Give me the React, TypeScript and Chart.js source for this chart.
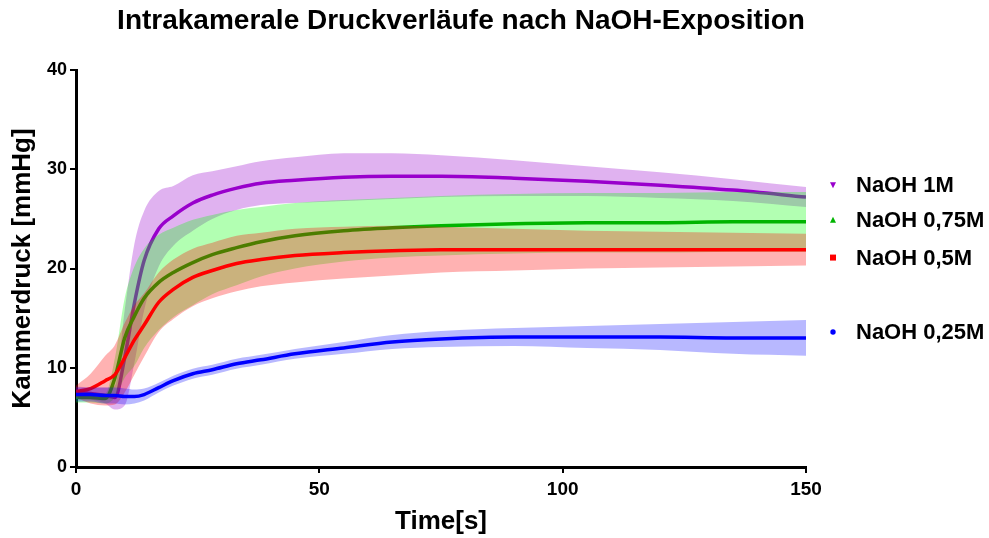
import React, { useEffect, useRef } from 'react';
import { Chart, registerables } from 'chart.js';

Chart.register(...registerables);

const titleText = 'Intrakamerale Druckverläufe nach NaOH-Exposition';
const xTitle = 'Time[s]';
const yTitle = 'Kammerdruck [mmHg]';

const times = [0, 3, 6, 8, 10, 12, 14, 17, 20, 24, 28, 33, 38, 45, 55, 65, 75, 90, 105, 120, 135, 150];

const mean1M = [7.5, 7.4, 7.2, 7.0, 11.0, 16.5, 20.8, 24.0, 25.3, 26.6, 27.4, 28.1, 28.6, 28.9, 29.2, 29.3, 29.3, 29.1, 28.8, 28.4, 27.9, 27.2];
const sd1M = [0.6, 0.6, 0.8, 1.2, 4.8, 6.0, 5.0, 3.8, 3.0, 2.8, 2.4, 2.2, 2.2, 2.3, 2.4, 2.3, 2.1, 1.8, 1.5, 1.3, 1.1, 1.0];

const mean075M = [7.0, 7.0, 6.9, 9.0, 13.0, 15.2, 17.0, 18.6, 19.6, 20.6, 21.4, 22.1, 22.7, 23.3, 23.8, 24.1, 24.3, 24.5, 24.6, 24.6, 24.7, 24.7];
const sd075M = [0.5, 0.5, 0.5, 2.0, 4.0, 5.0, 5.0, 4.8, 4.5, 4.3, 4.0, 3.8, 3.5, 3.3, 3.1, 3.0, 3.0, 3.0, 3.0, 3.0, 3.0, 3.0];

const mean05M = [7.6, 7.9, 8.7, 9.3, 11.0, 12.8, 14.3, 16.6, 17.9, 19.1, 19.8, 20.5, 20.9, 21.3, 21.6, 21.8, 21.9, 21.9, 21.9, 21.9, 21.9, 21.9];
const sd05M = [0.6, 1.5, 2.5, 3.0, 3.5, 3.5, 3.2, 3.0, 3.0, 2.9, 2.8, 2.8, 2.7, 2.7, 2.6, 2.5, 2.3, 2.1, 1.9, 1.8, 1.7, 1.6];

const mean025M = [7.3, 7.3, 7.2, 7.2, 7.1, 7.1, 7.3, 8.0, 8.7, 9.4, 9.8, 10.4, 10.8, 11.4, 12.0, 12.6, 12.9, 13.1, 13.1, 13.1, 13.0, 13.0];
const sd025M = [0.7, 0.7, 0.8, 0.8, 0.8, 0.7, 0.6, 0.5, 0.5, 0.5, 0.5, 0.5, 0.5, 0.5, 0.6, 0.7, 0.8, 0.9, 1.1, 1.3, 1.6, 1.8];

const seriesNames = ['NaOH 1M', 'NaOH 0,75M', 'NaOH 0,5M', 'NaOH 0,25M'];
const seriesMeans = [mean1M, mean075M, mean05M, mean025M];
const seriesSDs = [sd1M, sd075M, sd05M, sd025M];
const lineColors = ['#9900cc', '#00b400', '#ff0000', '#0000ff'];
const bandColors = ['rgba(153,0,204,0.3)', 'rgba(0,255,0,0.3)', 'rgba(255,0,0,0.3)', 'rgba(0,0,255,0.28)'];
const markerShapes = ['triangleDown', 'triangle', 'rect', 'circle'];
const legendAt = [28.4, 24.9, 21.1, 13.6];

const xTicks = [0, 50, 100, 150];
const yTicks = [0, 10, 20, 30, 40];

const FONT = "'Liberation Sans', Arial, sans-serif";

function drawMarker(ctx: CanvasRenderingContext2D, shape: string, x: number, y: number, color: string) {
  ctx.fillStyle = color;
  ctx.beginPath();
  const s = 3;
  if (shape === 'triangleDown') {
    ctx.moveTo(x - s, y - s);
    ctx.lineTo(x + s, y - s);
    ctx.lineTo(x, y + s);
  } else if (shape === 'triangle') {
    ctx.moveTo(x - s, y + s);
    ctx.lineTo(x + s, y + s);
    ctx.lineTo(x, y - s);
  } else if (shape === 'rect') {
    ctx.rect(x - s, y - s, 2 * s, 2 * s);
  } else {
    ctx.arc(x, y, s * 0.9, 0, Math.PI * 2);
  }
  ctx.closePath();
  ctx.fill();
}

const overlayPlugin = {
  id: 'overlay',
  afterDraw(chart: any) {
    const { ctx, chartArea, scales } = chart;
    ctx.save();
    ctx.fillStyle = '#000';
    ctx.font = `bold 28px ${FONT}`;
    ctx.textAlign = 'center';
    ctx.textBaseline = 'middle';
    ctx.fillText(titleText, (chartArea.left + chartArea.right) / 2 + 20, 21);
    seriesNames.forEach((name, i) => {
      const y = scales.y.getPixelForValue(legendAt[i]);
      drawMarker(ctx, markerShapes[i], chartArea.right + 27, y, lineColors[i]);
      ctx.fillStyle = '#000';
      ctx.font = `bold 22px ${FONT}`;
      ctx.textAlign = 'left';
      ctx.textBaseline = 'middle';
      ctx.fillText(name, chartArea.right + 50, y + 1);
    });
    ctx.restore();
  },
};

export default function App() {
  const ref = useRef<HTMLCanvasElement>(null);

  useEffect(() => {
    if (!ref.current) return;
    const datasets: any[] = [];
    seriesNames.forEach((name, i) => {
      const base = datasets.length;
      const m = seriesMeans[i];
      const sd = seriesSDs[i];
      const order = 20 - i * 3;
      datasets.push({
        label: name + ' +SD',
        data: times.map((t, k) => ({ x: t, y: m[k] + sd[k] })),
        borderWidth: 0,
        pointRadius: 0,
        backgroundColor: bandColors[i],
        fill: base + 1,
        cubicInterpolationMode: 'monotone',
        order: order,
      });
      datasets.push({
        label: name + ' -SD',
        data: times.map((t, k) => ({ x: t, y: m[k] - sd[k] })),
        borderWidth: 0,
        pointRadius: 0,
        fill: false,
        cubicInterpolationMode: 'monotone',
        order: order - 1,
      });
      datasets.push({
        label: name,
        data: times.map((t, k) => ({ x: t, y: m[k] })),
        borderColor: lineColors[i],
        borderWidth: 3.5,
        pointRadius: 0,
        fill: false,
        cubicInterpolationMode: 'monotone',
        order: order - 2,
      });
    });

    const chart = new Chart(ref.current, {
      type: 'line',
      data: { datasets },
      plugins: [overlayPlugin],
      options: {
        responsive: false,
        animation: false,
        events: [],
        layout: { padding: { left: 0, top: 70, right: 183, bottom: 0 } },
        plugins: {
          legend: { display: false },
          title: { display: false },
          tooltip: { enabled: false },
          filler: { propagate: false },
        },
        scales: {
          x: {
            type: 'linear',
            min: 0,
            max: 150,
            afterFit: (s: any) => { s.height = 71; },
            afterBuildTicks: (s: any) => { s.ticks = xTicks.map((v) => ({ value: v })); },
            ticks: { color: '#000', font: { family: FONT, size: 19, weight: 'bold' }, padding: 5 },
            grid: { display: true, drawOnChartArea: false, drawTicks: true, tickLength: 6, color: '#000', lineWidth: 2 },
            border: { display: true, color: '#000', width: 3 },
            title: { display: true, text: xTitle, color: '#000', font: { family: FONT, size: 26, weight: 'bold' }, padding: { top: 0, bottom: 1 } },
          },
          y: {
            type: 'linear',
            min: 0,
            max: 40,
            afterFit: (s: any) => { s.width = 76; },
            afterBuildTicks: (s: any) => { s.ticks = yTicks.map((v) => ({ value: v })); },
            ticks: { color: '#000', font: { family: FONT, size: 18, weight: 'bold' }, padding: 3 },
            grid: { display: true, drawOnChartArea: false, drawTicks: true, tickLength: 6, color: '#000', lineWidth: 2 },
            border: { display: true, color: '#000', width: 3 },
            title: { display: true, text: yTitle, color: '#000', font: { family: FONT, size: 26, weight: 'bold' }, padding: { top: 7, bottom: 0 } },
          },
        },
      },
    } as any);
    return () => chart.destroy();
  }, []);

  return (
    <div style={{ position: 'absolute', left: 0, top: 0, width: 989, height: 538, background: '#fff' }}>
      <canvas ref={ref} width={989} height={538} style={{ display: 'block', width: 989, height: 538 }} />
    </div>
  );
}
